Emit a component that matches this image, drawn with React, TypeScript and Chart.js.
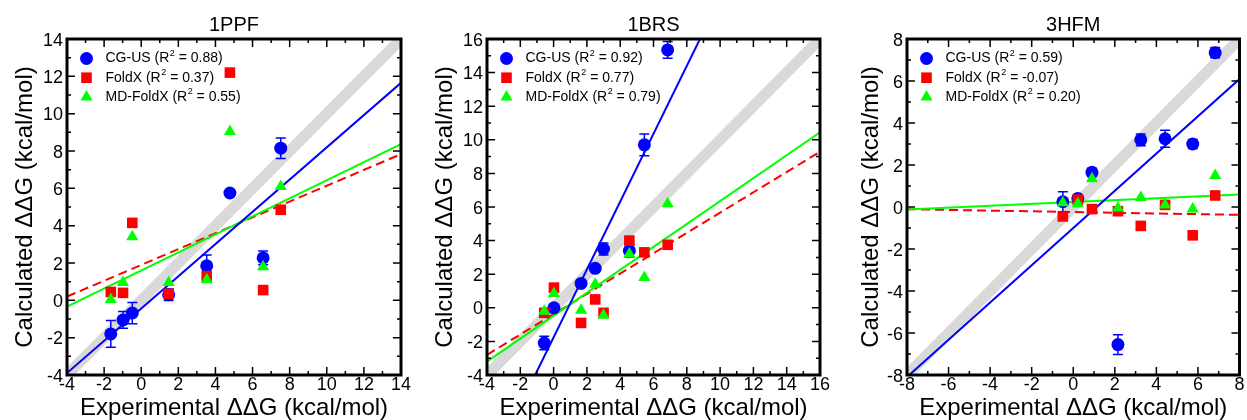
import React, { useEffect, useRef } from 'react';
import { Chart, registerables } from 'chart.js';

Chart.register(...registerables);

const FONT = "'Liberation Sans', Arial, Helvetica, sans-serif";

// ---------------- data ----------------
const panelTitles = ['1PPF', '1BRS', '3HFM'];
const seriesNames = ['CG-US', 'FoldX', 'MD-FoldX'];
const axisMin = [-4, -4, -8];
const axisMax = [14, 16, 8];
const xAxisTitle = 'Experimental ΔΔG (kcal/mol)';
const yAxisTitle = 'Calculated ΔΔG (kcal/mol)';

// 1PPF
const ppfExperimental = [-1.64, -0.98, -0.48, 1.48, 3.53, 4.78, 6.57, 7.52];
const ppfCGUS = [-1.8, -1.05, -0.68, 0.3, 1.85, 5.75, 2.27, 8.15];
const ppfCGUSError = [0.72, 0.45, 0.57, 0.31, 0.58, 0.18, 0.37, 0.55];
const ppfFoldX = [0.45, 0.4, 4.15, 0.35, 1.3, 12.2, 0.55, 4.85];
const ppfMDFoldX = [0.05, 0.95, 3.4, 0.95, 1.1, 9.05, 1.8, 6.1];
const ppfRSquared = ['0.88', '0.37', '0.55'];
const ppfFitSlope = [0.864, 0.424, 0.484];
const ppfFitIntercept = [-0.443, 1.898, 1.596];

// 1BRS
const brsExperimental = [-0.56, 0.02, 1.65, 2.5, 3.0, 4.55, 5.45, 6.85];
const brsCGUS = [-2.1, 0.0, 1.45, 2.35, 3.5, 3.4, 9.7, 15.35];
const brsCGUSError = [0.4, 0.1, 0.1, 0.1, 0.36, 0.38, 0.65, 0.5];
const brsFoldX = [-0.3, 1.2, -0.9, 0.5, -0.3, 4.0, 3.3, 3.75];
const brsMDFoldX = [-0.2, 0.85, -0.15, 1.4, -0.45, 3.2, 1.8, 6.2];
const brsRSquared = ['0.92', '0.77', '0.79'];
const brsFitSlope = [2.02, 0.6045, 0.6825];
const brsFitIntercept = [-1.76, -0.38, -0.47];

// 3HFM
const hfmExperimental = [-0.5, 0.22, 0.9, 2.15, 3.25, 4.42, 5.75, 6.83];
const hfmCGUS = [0.25, 0.4, 1.65, -6.55, 3.2, 3.25, 3.0, 7.35];
const hfmCGUSError = [0.48, 0.2, 0.2, 0.47, 0.28, 0.4, 0.22, 0.24];
const hfmFoldX = [-0.45, 0.35, -0.1, -0.2, -0.9, 0.1, -1.35, 0.55];
const hfmMDFoldX = [0.2, 0.15, 1.35, -0.05, 0.45, 0.1, -0.1, 1.5];
const hfmRSquared = ['0.59', '-0.07', '0.20'];
const hfmFitSlope = [0.887, -0.0168, 0.045];
const hfmFitIntercept = [-1.0, -0.24, 0.24];

const panels = [
  { exp: ppfExperimental, series: [ppfCGUS, ppfFoldX, ppfMDFoldX], err: ppfCGUSError, r2: ppfRSquared, slope: ppfFitSlope, intercept: ppfFitIntercept },
  { exp: brsExperimental, series: [brsCGUS, brsFoldX, brsMDFoldX], err: brsCGUSError, r2: brsRSquared, slope: brsFitSlope, intercept: brsFitIntercept },
  { exp: hfmExperimental, series: [hfmCGUS, hfmFoldX, hfmMDFoldX], err: hfmCGUSError, r2: hfmRSquared, slope: hfmFitSlope, intercept: hfmFitIntercept },
];

// ---------------- layout & style ----------------
const layouts = [
  { left: 0, width: 415, chartLeft: 67, chartRight: 401, yTitlePad: 13 },
  { left: 415, width: 415, chartLeft: 72, chartRight: 405, yTitlePad: 18 },
  { left: 830, width: 417, chartLeft: 77, chartRight: 412, yTitlePad: 29.7 },
];
const CANVAS_H = 420;
const seriesColors = ['#0000ff', '#ff0000', '#00ff00'];
const seriesStyles = ['circle', 'rect', 'triangle'];
const seriesRadius = [6.5, 7.5, 7];
const seriesOrder = [2, 1, 0];
const fitDash = [[], [9, 5], []];
const fitOrder = [3, 5, 4];

function drawMarker(ctx: CanvasRenderingContext2D, style: string, x: number, y: number, r: number, color: string) {
  ctx.save();
  ctx.fillStyle = color;
  ctx.beginPath();
  if (style === 'circle') {
    ctx.arc(x, y, r, 0, Math.PI * 2);
  } else if (style === 'rect') {
    const s = Math.SQRT1_2 * r;
    ctx.rect(x - s, y - s, 2 * s, 2 * s);
  } else {
    let a = 0;
    ctx.moveTo(x + Math.sin(a) * r, y - Math.cos(a) * r);
    a += (2 * Math.PI) / 3;
    ctx.lineTo(x + Math.sin(a) * r, y - Math.cos(a) * r);
    a += (2 * Math.PI) / 3;
    ctx.lineTo(x + Math.sin(a) * r, y - Math.cos(a) * r);
    ctx.closePath();
  }
  ctx.fill();
  ctx.restore();
}

const decorPlugin = {
  id: 'decor',
  beforeDatasetDraw(chart: any, args: any) {
    const ds = chart.data.datasets[args.index];
    if (!ds.errorBars) return;
    const ctx = chart.ctx;
    const xs = chart.scales.x;
    const ys = chart.scales.y;
    ctx.save();
    ctx.strokeStyle = ds.backgroundColor;
    ctx.lineWidth = 1.5;
    ds.data.forEach((p: any, i: number) => {
      const e = ds.errorBars[i];
      const px = xs.getPixelForValue(p.x);
      const y1 = ys.getPixelForValue(p.y - e);
      const y2 = ys.getPixelForValue(p.y + e);
      ctx.beginPath();
      ctx.moveTo(px, y1);
      ctx.lineTo(px, y2);
      ctx.moveTo(px - 5, y1);
      ctx.lineTo(px + 5, y1);
      ctx.moveTo(px - 5, y2);
      ctx.lineTo(px + 5, y2);
      ctx.stroke();
    });
    ctx.restore();
  },
  afterDraw(chart: any, _args: any, opts: any) {
    const ctx: CanvasRenderingContext2D = chart.ctx;
    const { left, right, top, bottom } = chart.chartArea;
    const xs = chart.scales.x;
    const ys = chart.scales.y;
    ctx.save();
    ctx.strokeStyle = '#000';
    ctx.lineWidth = 1.5;
    ctx.beginPath();
    for (let v = Math.ceil(xs.min); v <= xs.max; v++) {
      const px = xs.getPixelForValue(v);
      const len = Math.abs(v) % 2 === 0 ? 8 : 4;
      ctx.moveTo(px, bottom);
      ctx.lineTo(px, bottom - len);
      ctx.moveTo(px, top);
      ctx.lineTo(px, top + len);
    }
    for (let v = Math.ceil(ys.min); v <= ys.max; v++) {
      const py = ys.getPixelForValue(v);
      const len = Math.abs(v) % 2 === 0 ? 8 : 4;
      ctx.moveTo(left, py);
      ctx.lineTo(left + len, py);
      ctx.moveTo(right, py);
      ctx.lineTo(right - len, py);
    }
    ctx.stroke();
    ctx.lineWidth = 3;
    ctx.strokeRect(left, top, right - left, bottom - top);

    // legend inside chart area
    const items = opts.items || [];
    const mainFont = `14px ${FONT}`;
    const supFont = `9px ${FONT}`;
    items.forEach((it: any, i: number) => {
      const rowY = top + 19.5 + i * 19.2;
      drawMarker(ctx, it.style, left + 19.5, rowY, it.radius, it.color);
      let tx = left + 38.5;
      ctx.fillStyle = '#000';
      ctx.textBaseline = 'middle';
      ctx.textAlign = 'left';
      const a = `${it.label} (R`;
      ctx.font = mainFont;
      ctx.fillText(a, tx, rowY);
      tx += ctx.measureText(a).width;
      ctx.font = supFont;
      ctx.fillText('2', tx + 0.5, rowY - 5);
      tx += ctx.measureText('2').width + 0.5;
      ctx.font = mainFont;
      ctx.fillText(` = ${it.r2})`, tx, rowY);
    });
    ctx.restore();
  },
};

function Panel({ index }: { index: number }) {
  const ref = useRef<HTMLCanvasElement>(null);
  const L = layouts[index];
  useEffect(() => {
    const p = panels[index];
    const min = axisMin[index];
    const max = axisMax[index];
    const pts = (vals: number[]) => p.exp.map((x, i) => ({ x, y: vals[i] }));
    const fitLine = (a: number, b: number) => [
      { x: min, y: a * min + b },
      { x: max, y: a * max + b },
    ];

    const datasets: any[] = [];
    seriesNames.forEach((name, s) => {
      datasets.push({
        label: name,
        data: pts(p.series[s]),
        showLine: false,
        pointStyle: seriesStyles[s],
        pointRadius: seriesRadius[s],
        pointHoverRadius: seriesRadius[s],
        backgroundColor: seriesColors[s],
        borderColor: seriesColors[s],
        pointBorderWidth: 0,
        order: seriesOrder[s],
        clip: false,
        errorBars: s === 0 ? p.err : undefined,
      });
    });
    seriesNames.forEach((name, s) => {
      datasets.push({
        label: name + ' fit',
        data: fitLine(p.slope[s], p.intercept[s]),
        showLine: true,
        pointRadius: 0,
        borderColor: seriesColors[s],
        borderWidth: 2,
        borderDash: fitDash[s],
        order: fitOrder[s],
        clip: 0,
      });
    });
    datasets.push({
      label: 'y = x',
      data: [{ x: min, y: min }, { x: max, y: max }],
      showLine: true,
      pointRadius: 0,
      borderColor: '#d9d9d9',
      borderWidth: 11,
      borderCapStyle: 'butt',
      order: 10,
      clip: 0,
    });

    const legendItems = seriesNames.map((name, s) => ({
      label: name,
      r2: p.r2[s],
      color: seriesColors[s],
      style: seriesStyles[s],
      radius: seriesRadius[s],
    }));

    const tickFont = { family: FONT, size: 18, lineHeight: 1 };
    const titleFont = { family: FONT, size: 24, lineHeight: 1 };

    const chart = new Chart(ref.current as HTMLCanvasElement, {
      type: 'scatter',
      data: { datasets },
      options: {
        responsive: false,
        animation: false,
        events: [],
        devicePixelRatio: 1,
        layout: { padding: { left: 0, right: L.width - L.chartRight, top: 0, bottom: 0 } },
        scales: {
          x: {
            type: 'linear',
            min,
            max,
            afterFit: (sc: any) => {
              sc.height = CANVAS_H - 375;
              sc.paddingLeft = 0;
              sc.paddingRight = 0;
              sc.paddingTop = 0;
              sc.paddingBottom = 0;
            },
            grid: { display: false, drawTicks: false },
            border: { display: false },
            ticks: { stepSize: 2, padding: 1.5, color: '#000', font: tickFont, maxRotation: 0, autoSkip: false },
            title: { display: true, text: xAxisTitle, color: '#000', font: titleFont, padding: { top: 0, bottom: -0.5 } },
          },
          y: {
            type: 'linear',
            min,
            max,
            afterFit: (sc: any) => {
              sc.width = L.chartLeft;
              sc.paddingLeft = 0;
              sc.paddingRight = 0;
              sc.paddingTop = 0;
              sc.paddingBottom = 0;
            },
            grid: { display: false, drawTicks: false },
            border: { display: false },
            ticks: { stepSize: 2, padding: 4, labelOffset: 1.7, color: '#000', font: tickFont, autoSkip: false },
            title: { display: true, text: yAxisTitle, color: '#000', font: titleFont, padding: { top: L.yTitlePad, bottom: 0 } },
          },
        },
        plugins: {
          legend: { display: false },
          tooltip: { enabled: false },
          title: {
            display: true,
            text: panelTitles[index],
            fullSize: false,
            color: '#000',
            font: { family: FONT, size: 20, weight: 'normal', lineHeight: 1 },
            padding: { top: 15, bottom: 4 },
          },
          decor: { items: legendItems },
        } as any,
      } as any,
      plugins: [decorPlugin as any],
    });
    return () => chart.destroy();
  }, [index]);

  return (
    <canvas
      ref={ref}
      width={L.width}
      height={CANVAS_H}
      style={{ position: 'absolute', left: L.left, top: 0, width: L.width, height: CANVAS_H }}
    />
  );
}

export default function App() {
  return (
    <div style={{ position: 'absolute', left: 0, top: 0, width: 1247, height: CANVAS_H, background: '#fff', overflow: 'hidden' }}>
      {layouts.map((_, i) => (
        <Panel key={i} index={i} />
      ))}
    </div>
  );
}
